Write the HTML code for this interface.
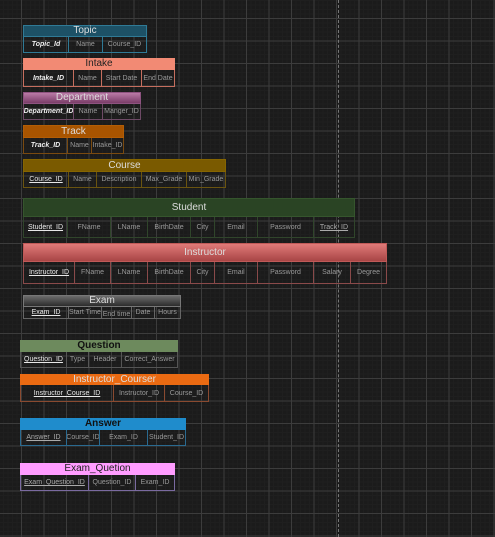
<!DOCTYPE html>
<html><head><meta charset="utf-8"><style>
html,body{margin:0;padding:0;}
body{width:495px;height:537px;overflow:hidden;position:relative;background-color:#1b1b1b;
background-image:linear-gradient(to right,#3c3c3c 1px,transparent 1px),linear-gradient(to bottom,#3c3c3c 1px,transparent 1px),linear-gradient(to right,#1f1f1f 1px,transparent 1px),linear-gradient(to bottom,#1f1f1f 1px,transparent 1px);
background-size:22.5px 22.5px,22.5px 22.5px,4.5px 4.5px,4.5px 4.5px;
background-position:21px 0,0 18px,21px 0,0 18px;
font-family:"Liberation Sans",sans-serif;}
.dash{position:absolute;left:338px;top:0;width:0;height:537px;border-left:1px dashed #777;}
.e{position:absolute;box-sizing:border-box;}
.h{position:absolute;left:0;right:0;top:0;text-align:center;color:#ddd;font-size:10px;box-sizing:border-box;border:1px solid;}
.r{position:absolute;left:0;right:0;bottom:0;box-sizing:border-box;border:1px solid;border-top:none;display:flex;}
.r span{box-sizing:border-box;border-right:1px solid;color:#999;font-size:7px;display:flex;align-items:center;justify-content:center;white-space:nowrap;overflow:hidden;}
.r span:last-child{border-right:none;}
.k{color:#e8e8e8!important;text-decoration:underline;}
.i{color:#eee!important;font-style:italic;font-weight:bold;}
</style></head><body>
<div class="dash"></div>

<div class="e" style="left:23px;top:25px;width:124px;height:28px">
<div class="h" style="height:12px;line-height:10px;background:#1d5166;border-color:#2f7a96">Topic</div>
<div class="r" style="top:12px;border-color:#2f7a96"><span class="i" style="width:45px;border-color:#2f7a96">Topic_Id</span><span style="width:34px;border-color:#2f7a96">Name</span><span style="flex:1">Course_ID</span></div></div>

<div class="e" style="left:23px;top:58px;width:152px;height:29px">
<div class="h" style="height:12px;line-height:10px;background:#f28a74;border-color:#f28a74;color:#222">Intake</div>
<div class="r" style="top:12px;border-color:#c56e5e"><span class="i" style="width:50px;border-color:#c56e5e">Intake_ID</span><span style="width:28px;border-color:#c56e5e">Name</span><span style="width:40px;border-color:#c56e5e">Start Date</span><span style="flex:1">End Date</span></div></div>

<div class="e" style="left:23px;top:92px;width:118px;height:28px">
<div class="h" style="height:12px;line-height:10px;background:linear-gradient(#b97aa6,#7a3d68);border-color:#8e5380">Department</div>
<div class="r" style="top:12px;border-color:#6e4a66"><span class="i" style="width:50px;border-color:#6e4a66">Department_ID</span><span style="width:29px;border-color:#6e4a66">Name</span><span style="flex:1">Manger_ID</span></div></div>

<div class="e" style="left:23px;top:125px;width:101px;height:29px">
<div class="h" style="height:13px;line-height:11px;background:#a85400;border-color:#b35d05">Track</div>
<div class="r" style="top:13px;border-color:#7a4a10"><span class="i" style="width:44px;border-color:#7a4a10">Track_ID</span><span style="width:24px;border-color:#7a4a10">Name</span><span style="flex:1">Intake_ID</span></div></div>

<div class="e" style="left:23px;top:159px;width:203px;height:29px">
<div class="h" style="height:13px;line-height:11px;background:#7a5a00;border-color:#866500">Course</div>
<div class="r" style="top:13px;border-color:#6a5410"><span class="k" style="width:45px;border-color:#6a5410">Course_ID</span><span style="width:28px;border-color:#6a5410">Name</span><span style="width:45px;border-color:#6a5410">Description</span><span style="width:45px;border-color:#6a5410">Max_Grade</span><span style="flex:1">Min_Grade</span></div></div>

<div class="e" style="left:23px;top:198px;width:332px;height:40px">
<div class="h" style="height:19px;line-height:17px;background:#2a4424;border-color:#35552d">Student</div>
<div class="r" style="top:19px;border-color:#30452b"><span class="k" style="width:44px;border-color:#30452b">Student_ID</span><span style="width:43px;border-color:#30452b">FName</span><span style="width:37px;border-color:#30452b">LName</span><span style="width:43px;border-color:#30452b">BirthDate</span><span style="width:24px;border-color:#30452b">City</span><span style="width:43px;border-color:#30452b">Email</span><span style="width:56px;border-color:#30452b">Password</span><span class="k" style="flex:1;color:#aaa!important">Track_ID</span></div></div>

<div class="e" style="left:23px;top:243px;width:364px;height:41px">
<div class="h" style="height:19px;line-height:17px;background:linear-gradient(#e07a78,#a84545);border-color:#c05a58">Instructor</div>
<div class="r" style="top:19px;border-color:#8a4a4a"><span class="k" style="width:51px;border-color:#8a4a4a">Instructor_ID</span><span style="width:36px;border-color:#8a4a4a">FName</span><span style="width:37px;border-color:#8a4a4a">LName</span><span style="width:43px;border-color:#8a4a4a">BirthDate</span><span style="width:24px;border-color:#8a4a4a">City</span><span style="width:43px;border-color:#8a4a4a">Email</span><span style="width:56px;border-color:#8a4a4a">Password</span><span style="width:37px;border-color:#8a4a4a">Salary</span><span style="flex:1">Degree</span></div></div>

<div class="e" style="left:23px;top:295px;width:158px;height:24px">
<div class="h" style="height:12px;line-height:10px;background:linear-gradient(#6c6c6c,#2c2c2c);border-color:#777">Exam</div>
<div class="r" style="top:12px;border-color:#666"><span class="k" style="width:45px;border-color:#666">Exam_ID</span><span style="width:33px;border-color:#666">Start Time</span><span style="width:30px;border-color:#666;padding-top:4px">End time</span><span style="width:23px;border-color:#666">Date</span><span style="flex:1">Hours</span></div></div>

<div class="e" style="left:20px;top:340px;width:158px;height:28px">
<div class="h" style="height:12px;line-height:10px;background:#6d8a5d;border-color:#6d8a5d;color:#111;font-weight:bold">Question</div>
<div class="r" style="top:12px;border-color:#555"><span class="k" style="width:46px;border-color:#555">Question_ID</span><span style="width:22px;border-color:#555">Type</span><span style="width:33px;border-color:#555">Header</span><span style="flex:1">Correct_Answer</span></div></div>

<div class="e" style="left:20px;top:374px;width:189px;height:28px">
<div class="h" style="height:11px;line-height:9px;background:#ea6a12;border-color:#ea6a12">Instructor_Courser</div>
<div class="r" style="top:11px;border-color:#8a4a30"><span class="k" style="width:93px;border-color:#8a4a30">Instructor_Course_ID</span><span style="width:51px;border-color:#8a4a30">Instructor_ID</span><span style="flex:1">Course_ID</span></div></div>

<div class="e" style="left:20px;top:418px;width:166px;height:28px">
<div class="h" style="height:12px;line-height:10px;background:#1f8ccc;border-color:#1f8ccc;color:#111;font-weight:bold">Answer</div>
<div class="r" style="top:12px;border-color:#2a6a90"><span class="k" style="width:46px;border-color:#2a6a90;color:#aaa!important">Answer_ID</span><span style="width:33px;border-color:#2a6a90">Course_ID</span><span style="width:48px;border-color:#2a6a90">Exam_ID</span><span style="flex:1">Student_ID</span></div></div>

<div class="e" style="left:20px;top:463px;width:155px;height:28px">
<div class="h" style="height:12px;line-height:10px;background:#ff9cff;border-color:#ff9cff;color:#222">Exam_Quetion</div>
<div class="r" style="top:12px;border-color:#7a6aa0"><span class="k" style="width:68px;border-color:#7a6aa0;color:#aaa!important">Exam_Question_ID</span><span style="width:47px;border-color:#7a6aa0">Question_ID</span><span style="flex:1">Exam_ID</span></div></div>
</body></html>
